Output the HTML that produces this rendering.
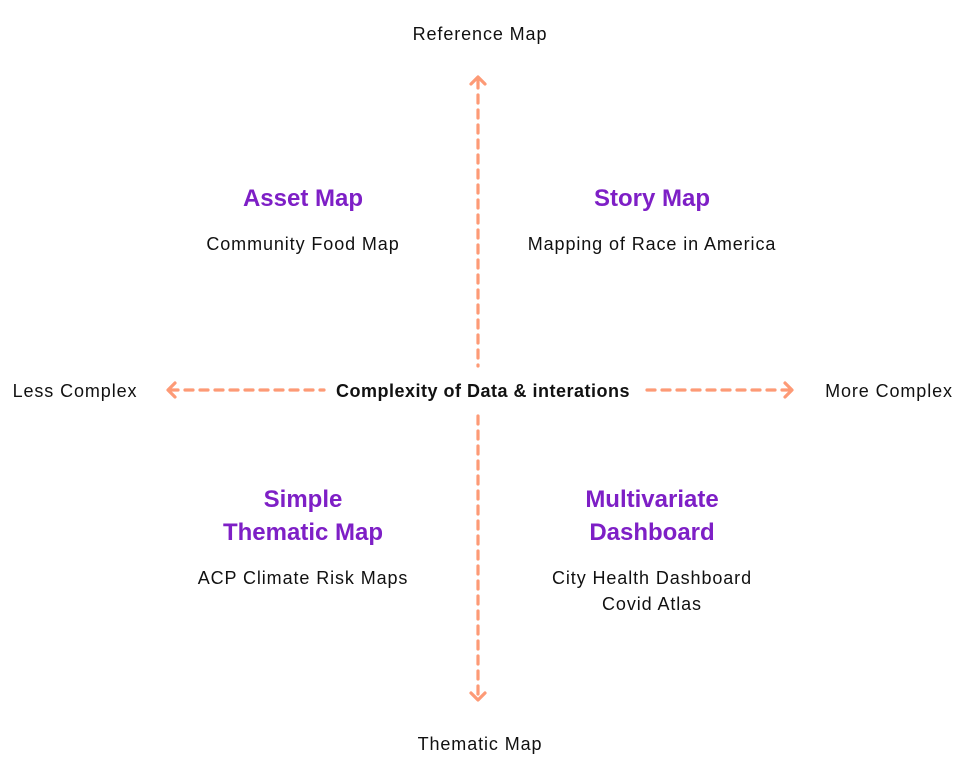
<!DOCTYPE html>
<html><head><style>
body{margin:0;width:964px;height:776px;background:#fff;position:relative;font-family:"Liberation Sans",sans-serif;overflow:hidden}
.t{position:absolute;transform:translateX(-50%);white-space:nowrap;color:#111;font-size:18px;letter-spacing:0.9px;text-align:center;line-height:26px}
.h{position:absolute;transform:translateX(-50%);white-space:nowrap;color:#7e1fc6;font-size:24px;font-weight:bold;text-align:center;line-height:33px}
</style></head><body>
<svg width="964" height="776" style="position:absolute;left:0;top:0">
<g stroke="#fd9a76" stroke-width="3.2" fill="none" stroke-linecap="round" stroke-linejoin="round">
<line x1="478" y1="80" x2="478" y2="366" stroke-dasharray="8 7"/>
<polyline points="471,84 478,77 485,84"/>
<line x1="478" y1="416" x2="478" y2="700" stroke-dasharray="8 7"/>
<polyline points="471,693 478,700 485,693"/>
<line x1="170" y1="390" x2="324" y2="390" stroke-dasharray="8 7"/>
<polyline points="175,383 168,390 175,397"/>
<line x1="647" y1="390" x2="791" y2="390" stroke-dasharray="8 7"/>
<polyline points="785,383 792,390 785,397"/>
</g></svg>
<div class="t" style="left:480px;top:21px">Reference Map</div>
<div class="t" style="left:480px;top:731px">Thematic Map</div>
<div class="t" style="left:75px;top:378px">Less Complex</div>
<div class="t" style="left:889px;top:378px">More Complex</div>
<div class="t" style="left:483px;top:378px;font-weight:bold;letter-spacing:0.5px">Complexity of Data &amp; interations</div>
<div class="h" style="left:303px;top:182px">Asset Map</div>
<div class="t" style="left:303px;top:231px">Community Food Map</div>
<div class="h" style="left:652px;top:182px">Story Map</div>
<div class="t" style="left:652px;top:231px">Mapping of Race in America</div>
<div class="h" style="left:303px;top:483px">Simple<br>Thematic Map</div>
<div class="t" style="left:303px;top:565px">ACP Climate Risk Maps</div>
<div class="h" style="left:652px;top:483px">Multivariate<br>Dashboard</div>
<div class="t" style="left:652px;top:565px">City Health Dashboard<br>Covid Atlas</div>
</body></html>
